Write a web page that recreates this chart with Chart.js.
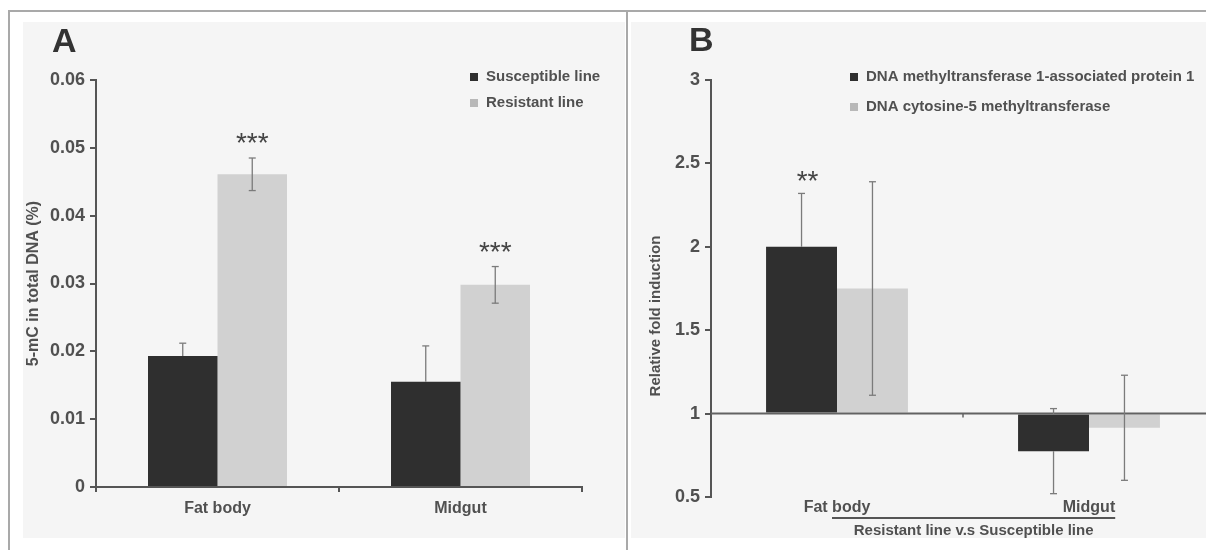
<!DOCTYPE html>
<html>
<head>
<meta charset="utf-8">
<script src="https://cdn.jsdelivr.net/npm/chart.js@4.4.0/dist/chart.umd.min.js"></script>
<style>
  html, body { margin: 0; padding: 0; background: #fff; overflow: hidden; }
  #wrap { position: relative; width: 1206px; height: 550px; overflow: hidden; }
  .panel { position: absolute; background: #f5f5f5; }
  .line { position: absolute; background: #a9a9a9; }
  canvas { position: absolute; }
</style>
</head>
<body>
<div id="wrap">
  <div class="panel" style="left:23px;top:22px;width:602px;height:516px"></div>
  <div class="panel" style="left:631px;top:22px;width:575px;height:516px"></div>
  <div class="line" style="left:9px;top:10px;width:1197px;height:2px"></div>
  <div class="line" style="left:8px;top:10px;width:2px;height:540px"></div>
  <div class="line" style="left:626px;top:10px;width:2px;height:540px"></div>
  <canvas id="chartA" width="600" height="525" style="left:20px;top:20px"></canvas>
  <canvas id="chartB" width="600" height="525" style="left:630px;top:20px"></canvas>
</div>
<script>
// Panel A: 5-mC content
const categories = ['Fat body', 'Midgut'];
const susceptible = [0.0193, 0.0155];
const susceptibleErr = [0.0019, 0.0053];
const resistant = [0.0461, 0.0298];
const resistantErr = [0.0024, 0.0027];
const resistantStars = ['***', '***'];
const yTicksA = ['0', '0.01', '0.02', '0.03', '0.04', '0.05', '0.06'];

// Panel B: relative fold induction (bars grow from 1)
const dnmtap1 = [2.0, 0.775];
const dnmtap1Err = [0.32, 0.255];
const dnmtap1Stars = ['**', ''];
const dnmt = [1.75, 0.915];
const dnmtErr = [0.64, 0.315];
const yTicksB = ['0.5', '1', '1.5', '2', '2.5', '3'];

const FONT = "'Liberation Sans', Arial, sans-serif";
const DARK = '#2f2f2f';
const LIGHT = '#d1d1d1';
const TEXT = '#505050';
const AXIS = '#555';

// error bars, stars, legend, panel letter and extra labels
const extras = {
  id: 'extras',
  afterDatasetsDraw(chart, args, o) {
    const ctx = chart.ctx, ys = chart.scales.y, area = chart.chartArea;
    ctx.save();
    if (o.baseline != null) {
      const yb = ys.getPixelForValue(o.baseline);
      ctx.strokeStyle = '#626262';
      ctx.lineWidth = 2;
      ctx.beginPath();
      ctx.moveTo(area.left, yb);
      ctx.lineTo(chart.width, yb);
      ctx.stroke();
      // small ticks at category boundaries
      const xs = chart.scales.x;
      ctx.lineWidth = 1.5;
      for (let k = 1; k < categories.length; k++) {
        const xb = (xs.getPixelForValue(k - 1) + xs.getPixelForValue(k)) / 2;
        ctx.beginPath();
        ctx.moveTo(xb, yb);
        ctx.lineTo(xb, yb + 4);
        ctx.stroke();
      }
    }
    chart.data.datasets.forEach((ds, i) => {
      const meta = chart.getDatasetMeta(i);
      meta.data.forEach((bar, j) => {
        const v = ds.data[j], e = ds.err[j];
        const yA = ys.getPixelForValue(v + e), yB = ys.getPixelForValue(v - e);
        const lo = Math.min(bar.y, bar.base), hi = Math.max(bar.y, bar.base);
        ctx.strokeStyle = '#7b7b7b';
        ctx.lineWidth = 1.3;
        const segs = ds.errInside ? [[yA, yB]] : [[yA, Math.min(yB, lo)], [Math.max(yA, hi), yB]];
        segs.forEach(([a, b]) => {
          if (b > a) {
            ctx.beginPath();
            ctx.moveTo(bar.x, a);
            ctx.lineTo(bar.x, b);
            ctx.stroke();
          }
        });
        [yA, yB].forEach(y => {
          if (ds.errInside || y < lo || y > hi) {
            ctx.beginPath();
            ctx.moveTo(bar.x - 3.5, y);
            ctx.lineTo(bar.x + 3.5, y);
            ctx.stroke();
          }
        });
        if (ds.stars && ds.stars[j]) {
          ctx.fillStyle = '#444';
          ctx.font = '28px ' + FONT;
          ctx.textAlign = 'center';
          ctx.textBaseline = 'alphabetic';
          ctx.fillText(ds.stars[j], bar.x + o.starShift, yA - o.starGap);
        }
      });
    });
    ctx.restore();
  },
  afterDraw(chart, args, o) {
    const ctx = chart.ctx;
    ctx.save();
    // panel letter
    ctx.fillStyle = '#333';
    ctx.font = 'bold 34px ' + FONT;
    ctx.textAlign = 'left';
    ctx.textBaseline = 'alphabetic';
    ctx.fillText(o.letter.text, o.letter.x, o.letter.y);
    // legend
    ctx.font = 'bold 15px ' + FONT;
    ctx.textBaseline = 'middle';
    chart.data.datasets.forEach((ds, i) => {
      const y = o.legend.y + i * o.legend.dy;
      ctx.fillStyle = ds.backgroundColor === LIGHT ? '#b8b8b8' : ds.backgroundColor;
      ctx.fillRect(o.legend.x, y - 4, 8, 8);
      ctx.fillStyle = TEXT;
      ctx.fillText(ds.label, o.legend.x + 16, y);
    });
    // extra texts (rotated y title, x title with rule)
    if (o.yTitle) {
      ctx.save();
      ctx.translate(o.yTitle.x, o.yTitle.y);
      ctx.rotate(-Math.PI / 2);
      ctx.textAlign = 'center';
      ctx.fillStyle = TEXT;
      ctx.fillText(o.yTitle.text, 0, 0);
      ctx.restore();
    }
    if (o.xTitle) {
      const xs = chart.scales.x;
      const x0 = xs.getPixelForValue(0) - 5;
      ctx.font = 'bold 16px ' + FONT;
      const x1 = xs.getPixelForValue(categories.length - 1) + ctx.measureText(categories[categories.length - 1]).width / 2;
      ctx.strokeStyle = '#555';
      ctx.lineWidth = 2;
      ctx.beginPath();
      ctx.moveTo(x0, o.xTitle.ruleY);
      ctx.lineTo(x1, o.xTitle.ruleY);
      ctx.stroke();
      ctx.font = 'bold 15px ' + FONT;
      ctx.textAlign = 'center';
      ctx.fillStyle = TEXT;
      ctx.fillText(o.xTitle.text, (x0 + x1) / 2, o.xTitle.y);
    }
    ctx.restore();
  }
};

function yScale(min, max, labels, width) {
  return {
    min: min,
    max: max,
    afterBuildTicks(s) { s.ticks = labels.map(t => ({ value: Number(t) })); },
    afterFit(s) { s.width = width; },
    border: { color: AXIS, width: 2 },
    grid: { drawOnChartArea: false, tickLength: 6, color: AXIS, lineWidth: 2 },
    ticks: {
      callback: (v, i) => labels[i],
      color: TEXT,
      padding: 5,
      font: { family: FONT, size: 18, weight: 'bold' }
    }
  };
}

new Chart(document.getElementById('chartA'), {
  type: 'bar',
  data: {
    labels: categories,
    datasets: [
      { label: 'Susceptible line', data: susceptible, err: susceptibleErr, backgroundColor: DARK, errInside: false },
      { label: 'Resistant line', data: resistant, err: resistantErr, stars: resistantStars, backgroundColor: LIGHT, errInside: true }
    ]
  },
  options: {
    responsive: false,
    animation: false,
    devicePixelRatio: 1,
    layout: { padding: { top: 60, right: 38, left: 0, bottom: 0 } },
    datasets: { bar: { barPercentage: 1, categoryPercentage: 0.572 } },
    plugins: {
      legend: { display: false },
      tooltip: { enabled: false },
      extras: {
        letter: { text: 'A', x: 32, y: 32 },
        legend: { x: 450, y: 57, dy: 26 },
        starGap: 6,
        starShift: 0
      }
    },
    scales: {
      x: {
        afterFit(s) { s.height = 58; },
        border: { color: AXIS, width: 2 },
        grid: { offset: true, drawOnChartArea: false, tickLength: 5, color: AXIS, lineWidth: 2 },
        ticks: { color: TEXT, padding: 7, font: { family: FONT, size: 16, weight: 'bold' } }
      },
      y: Object.assign(yScale(0, 0.06, yTicksA, 76), {
        title: { display: true, text: '5-mC in total DNA (%)', color: TEXT, padding: { top: 4 }, font: { family: FONT, size: 16, weight: 'bold' } }
      })
    }
  },
  plugins: [extras]
});

new Chart(document.getElementById('chartB'), {
  type: 'bar',
  data: {
    labels: categories,
    datasets: [
      { label: 'DNA methyltransferase 1-associated protein 1', data: dnmtap1, err: dnmtap1Err, stars: dnmtap1Stars, backgroundColor: DARK, base: 1, errInside: false },
      { label: 'DNA cytosine-5 methyltransferase', data: dnmt, err: dnmtErr, backgroundColor: LIGHT, base: 1, errInside: true }
    ]
  },
  options: {
    responsive: false,
    animation: false,
    devicePixelRatio: 1,
    layout: { padding: { top: 60, right: 15, left: 0, bottom: 0 } },
    datasets: { bar: { barPercentage: 1, categoryPercentage: 0.563 } },
    plugins: {
      legend: { display: false },
      tooltip: { enabled: false },
      extras: {
        letter: { text: 'B', x: 59, y: 31 },
        legend: { x: 220, y: 57, dy: 30 },
        starGap: 3,
        starShift: 6,
        baseline: 1,
        yTitle: { text: 'Relative fold induction', x: 26, y: 296 },
        xTitle: { text: 'Resistant line v.s Susceptible line', ruleY: 498, y: 511 }
      }
    },
    scales: {
      x: {
        afterFit(s) { s.height = 48; },
        border: { display: false },
        grid: { display: false, drawTicks: false },
        ticks: { color: TEXT, padding: 1, font: { family: FONT, size: 16, weight: 'bold' } }
      },
      y: yScale(0.5, 3, yTicksB, 81)
    }
  },
  plugins: [extras]
});
</script>
</body>
</html>
